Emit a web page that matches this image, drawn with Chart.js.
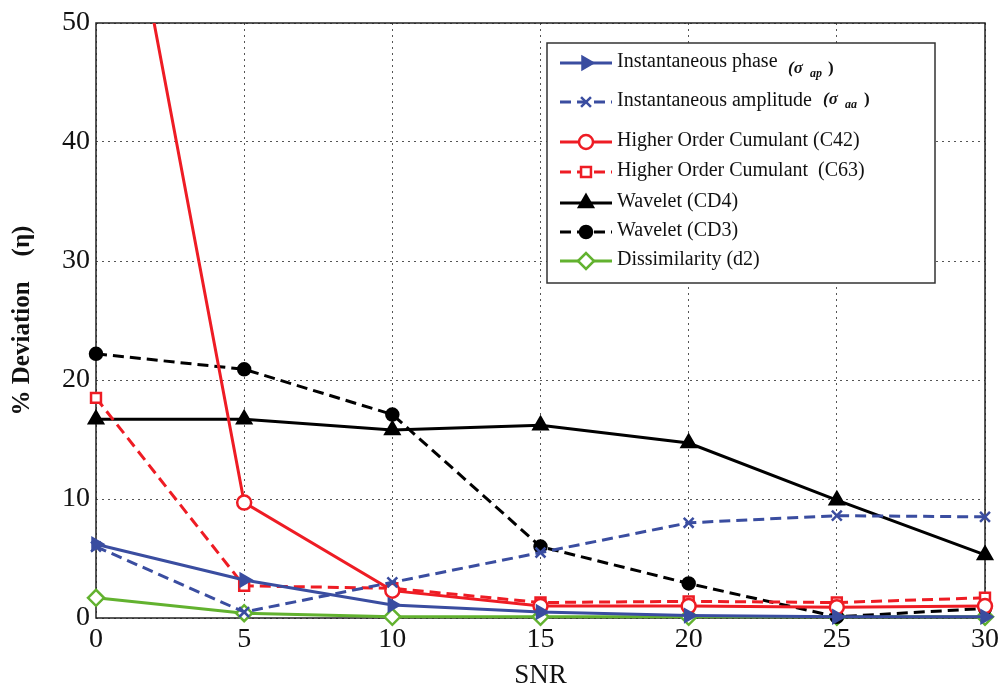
<!DOCTYPE html>
<html>
<head>
<meta charset="utf-8">
<script src="https://cdn.jsdelivr.net/npm/chart.js@4"></script>
<style>
  html, body { margin: 0; padding: 0; background: #fff; }
  #wrap { width: 1004px; height: 694px; }
</style>
</head>
<body>
<div id="wrap"><canvas id="chart" width="1004" height="694"></canvas></div>
<script>
// =====================
// Data
// =====================

const snr = [0, 5, 10, 15, 20, 25, 30];
const yTicks = [0, 10, 20, 30, 40, 50];

const instPhase = [6.2, 3.2, 1.1, 0.5, 0.2, 0.1, 0.1];
const instAmplitude = [6.0, 0.5, 3.0, 5.5, 8.0, 8.6, 8.5];
const hocC42 = [76, 9.7, 2.3, 1.0, 1.0, 0.9, 1.0];
const hocC63 = [18.5, 2.7, 2.5, 1.3, 1.4, 1.3, 1.7];
const waveletCD4 = [16.7, 16.7, 15.8, 16.2, 14.7, 9.9, 5.3];
const waveletCD3 = [22.2, 20.9, 17.1, 6.0, 2.9, 0.1, 0.8];
const dissimilarity = [1.7, 0.4, 0.1, 0.1, 0.1, 0.1, 0.1];

const seriesNames = [
  'Instantaneous phase',
  'Instantaneous amplitude',
  'Higher Order Cumulant (C42)',
  'Higher Order Cumulant  (C63)',
  'Wavelet (CD4)',
  'Wavelet (CD3)',
  'Dissimilarity (d2)'
];

const BLUE = '#3a4da0';
const RED = '#ee1c24';
const BLACK = '#000000';
const GREEN = '#62b22f';
const DASH = [11, 6];
const SERIF = '"Liberation Serif", "DejaVu Serif", serif';

function pts(values) {
  return snr.map((x, i) => ({ x: x, y: values[i] }));
}

function makeSet(label, values, color, dashed, pointStyle, filled, rotation) {
  return {
    label: label,
    data: pts(values),
    borderColor: color,
    backgroundColor: filled ? color : '#ffffff',
    borderWidth: 3,
    borderDash: dashed ? DASH : [],
    pointStyle: pointStyle,
    pointRotation: rotation || 0,
    pointRadius: 7,
    pointBorderWidth: 2.5,
    pointBorderColor: color,
    pointBackgroundColor: filled ? color : '#ffffff',
    tension: 0,
    // let the markers on the edges show, but cut lines at the top
    clip: { left: 14, right: 14, top: 0, bottom: 14 }
  };
}

const datasets = [
  makeSet(seriesNames[0], instPhase, BLUE, false, 'triangle', true, 90),
  makeSet(seriesNames[1], instAmplitude, BLUE, true, 'crossRot', true),
  makeSet(seriesNames[2], hocC42, RED, false, 'circle', false),
  makeSet(seriesNames[3], hocC63, RED, true, 'rect', false),
  makeSet(seriesNames[4], waveletCD4, BLACK, false, 'triangle', true),
  makeSet(seriesNames[5], waveletCD3, BLACK, true, 'circle', true),
  makeSet(seriesNames[6], dissimilarity, GREEN, false, 'rectRot', false)
];
datasets[4].pointRadius = 8;
datasets[5].pointRadius = 6;
datasets[6].pointRadius = 8;

// =====================
// Plugins
// =====================

// black box around the plot area
const frame = {
  id: 'frame',
  beforeDatasetsDraw(chart) {
    const a = chart.chartArea;
    const ctx = chart.ctx;
    ctx.save();
    ctx.strokeStyle = '#222';
    ctx.lineWidth = 1.5;
    ctx.strokeRect(a.left, a.top, a.right - a.left, a.bottom - a.top);
    ctx.restore();
  }
};

// legend box drawn like the original figure
const boxLegend = {
  id: 'boxLegend',
  afterDraw(chart) {
    const ctx = chart.ctx;
    const x0 = 547, y0 = 43, w = 388, h = 240;
    const rows = [63, 102, 142, 172, 203, 232, 261];
    ctx.save();
    ctx.fillStyle = '#fff';
    ctx.fillRect(x0, y0, w, h);
    ctx.strokeStyle = '#333';
    ctx.lineWidth = 1.5;
    ctx.strokeRect(x0, y0, w, h);

    chart.data.datasets.forEach((ds, i) => {
      const y = rows[i];
      ctx.strokeStyle = ds.borderColor;
      ctx.lineWidth = 3;
      ctx.setLineDash(ds.borderDash);
      ctx.beginPath();
      ctx.moveTo(560, y);
      ctx.lineTo(612, y);
      ctx.stroke();
      ctx.setLineDash([]);
      ctx.fillStyle = ds.pointBackgroundColor;
      ctx.strokeStyle = ds.pointBorderColor;
      ctx.lineWidth = ds.pointBorderWidth;
      Chart.helpers.drawPoint(ctx, {
        pointStyle: ds.pointStyle,
        rotation: ds.pointRotation,
        radius: ds.pointRadius,
        borderWidth: ds.pointBorderWidth
      }, 586, y);

      ctx.fillStyle = '#111';
      ctx.font = '20px ' + SERIF;
      ctx.textBaseline = 'middle';
      ctx.textAlign = 'left';
      ctx.fillText(ds.label, 617, y - 1);
    });

    // sigma annotations
    ctx.fillStyle = '#111';
    ctx.font = 'bold italic 17px ' + SERIF;
    ctx.fillText('(σ', 788, 69);
    ctx.font = 'bold italic 12px ' + SERIF;
    ctx.fillText('ap', 810, 74);
    ctx.font = 'bold 17px ' + SERIF;
    ctx.fillText(')', 828, 69);

    ctx.font = 'bold italic 17px ' + SERIF;
    ctx.fillText('(σ', 823, 100);
    ctx.font = 'bold italic 12px ' + SERIF;
    ctx.fillText('aa', 845, 105);
    ctx.font = 'bold 17px ' + SERIF;
    ctx.fillText(')', 864, 100);
    ctx.restore();
  }
};

// =====================
// Chart
// =====================

Chart.defaults.font.family = SERIF;
Chart.defaults.color = '#111';

const chart = new Chart(document.getElementById('chart'), {
  type: 'line',
  data: { datasets: datasets },
  options: {
    responsive: false,
    animation: false,
    layout: { padding: { top: 23, right: 16, left: 8, bottom: 0 } },
    plugins: {
      legend: { display: false },
      tooltip: { enabled: false }
    },
    scales: {
      x: {
        type: 'linear',
        min: 0,
        max: 30,
        afterBuildTicks: axis => { axis.ticks = snr.map(v => ({ value: v })); },
        afterFit: axis => { axis.height = 76; },
        grid: {
          color: '#555',
          lineWidth: 1,
          drawTicks: false
        },
        border: { display: false, dash: [2, 4] },
        ticks: {
          padding: 5,
          font: { size: 28 },
          color: '#111',
          maxRotation: 0
        },
        title: {
          display: true,
          text: 'SNR',
          font: { size: 27 },
          color: '#111',
          padding: { top: 0, bottom: 2 }
        }
      },
      y: {
        type: 'linear',
        min: 0,
        max: 50,
        afterBuildTicks: axis => { axis.ticks = yTicks.map(v => ({ value: v })); },
        afterFit: axis => { axis.width = 88; },
        grid: {
          color: '#555',
          lineWidth: 1,
          drawTicks: false
        },
        border: { display: false, dash: [2, 4] },
        ticks: {
          padding: 6,
          font: { size: 28 },
          color: '#111'
        },
        title: {
          display: true,
          text: '% Deviation    (η)',
          font: { size: 25, weight: 'bold' },
          color: '#111',
          padding: { top: 0, bottom: 0 }
        }
      }
    }
  },
  plugins: [frame, boxLegend]
});
</script>
</body>
</html>
